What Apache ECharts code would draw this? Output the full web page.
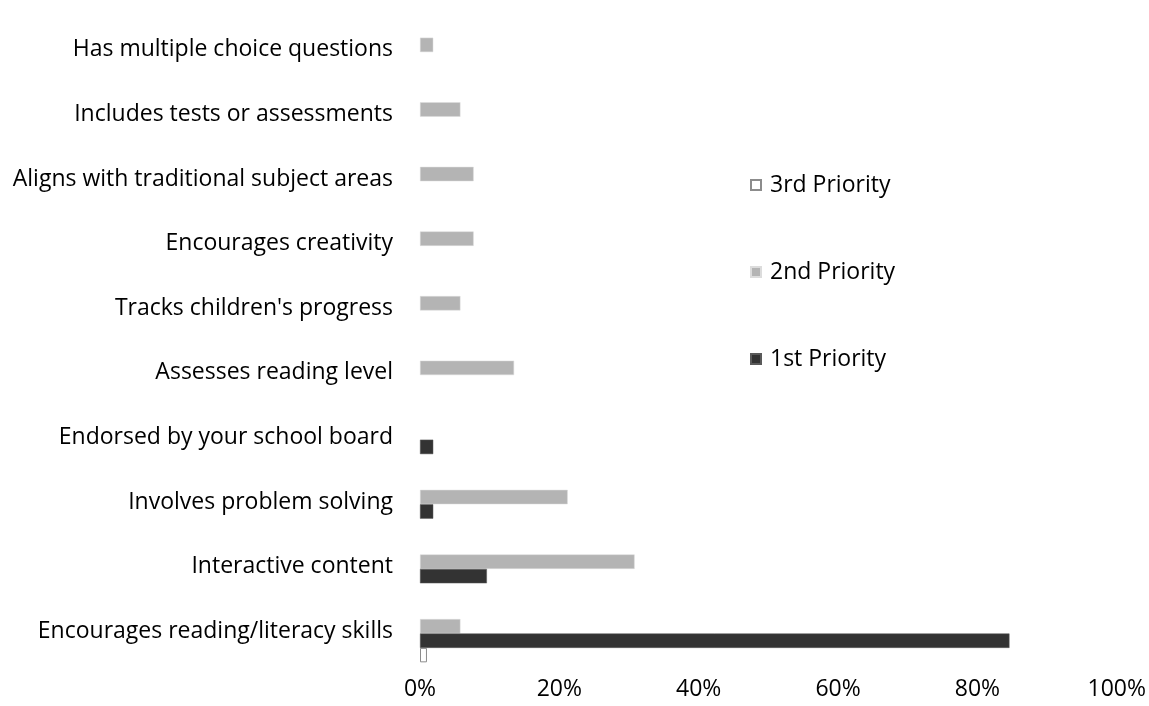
<!DOCTYPE html>
<html>
<head>
<meta charset="utf-8">
<script src="https://cdn.jsdelivr.net/npm/echarts@6/dist/echarts.min.js"></script>
<style>
  html, body { margin: 0; padding: 0; background: #fff; }
  #chart { width: 1149px; height: 706px; }
</style>
</head>
<body>
<div id="chart"></div>
<script>
// categories listed bottom to top
const categories = [
  'Encourages reading/literacy skills',
  'Interactive content',
  'Involves problem solving',
  'Endorsed by your school board',
  'Assesses reading level',
  "Tracks children's progress",
  'Encourages creativity',
  'Aligns with traditional subject areas',
  'Includes tests or assessments',
  'Has multiple choice questions'
]
const firstPriority = [84.6, 9.6, 1.9, 1.9, 0, 0, 0, 0, 0, 0]
const secondPriority = [5.8, 30.8, 21.2, 0, 13.5, 5.8, 7.7, 7.7, 5.8, 1.9]
const thirdPriority = [1, 0, 0, 0, 0, 0, 0, 0, 0, 0]
const xTicks = [0, 20, 40, 60, 80, 100]

const font = '"Open Sans", sans-serif'
const hideZero = (arr) => arr.map((v) => (v === 0 ? '-' : v))

const chart = echarts.init(document.getElementById('chart'), null, { renderer: 'canvas' })

chart.setOption({
  backgroundColor: '#fff',
  animation: false,
  textStyle: { fontFamily: font },
  grid: { left: 420, right: 31, top: 27, bottom: 33, containLabel: false },
  legend: {
    orient: 'vertical',
    left: 750,
    top: 173,
    padding: 0,
    itemGap: 63,
    itemWidth: 10,
    itemHeight: 10,
    icon: 'rect',
    data: ['3rd Priority', '2nd Priority', '1st Priority'],
    textStyle: { color: '#000', fontSize: 23, lineHeight: 24, fontFamily: font, padding: [0, 0, 0, 4] }
  },
  xAxis: {
    type: 'value',
    min: xTicks[0],
    max: xTicks[xTicks.length - 1],
    interval: 20,
    axisLine: { show: false },
    axisTick: { show: false },
    splitLine: { show: false },
    axisLabel: { color: '#000', fontSize: 23, margin: 5, formatter: '{value}%' }
  },
  yAxis: {
    type: 'category',
    data: categories,
    axisLine: { show: false },
    axisTick: { show: false },
    splitLine: { show: false },
    axisLabel: { color: '#000', fontSize: 23, margin: 27, verticalAlign: 'bottom', lineHeight: 19 }
  },
  series: [
    {
      name: '2nd Priority',
      type: 'bar',
      data: hideZero(secondPriority),
      barGap: '0%',
      barCategoryGap: '33%',
      itemStyle: { color: '#b4b4b4', borderColor: '#dcdcdc', borderWidth: 0.5 }
    },
    {
      name: '1st Priority',
      type: 'bar',
      data: hideZero(firstPriority),
      itemStyle: { color: '#333333', borderColor: '#5a5a5a', borderWidth: 0.5 }
    },
    {
      name: '3rd Priority',
      type: 'bar',
      data: hideZero(thirdPriority),
      itemStyle: { color: '#ffffff', borderColor: '#8c8c8c', borderWidth: 1 }
    }
  ]
})
</script>
</body>
</html>
